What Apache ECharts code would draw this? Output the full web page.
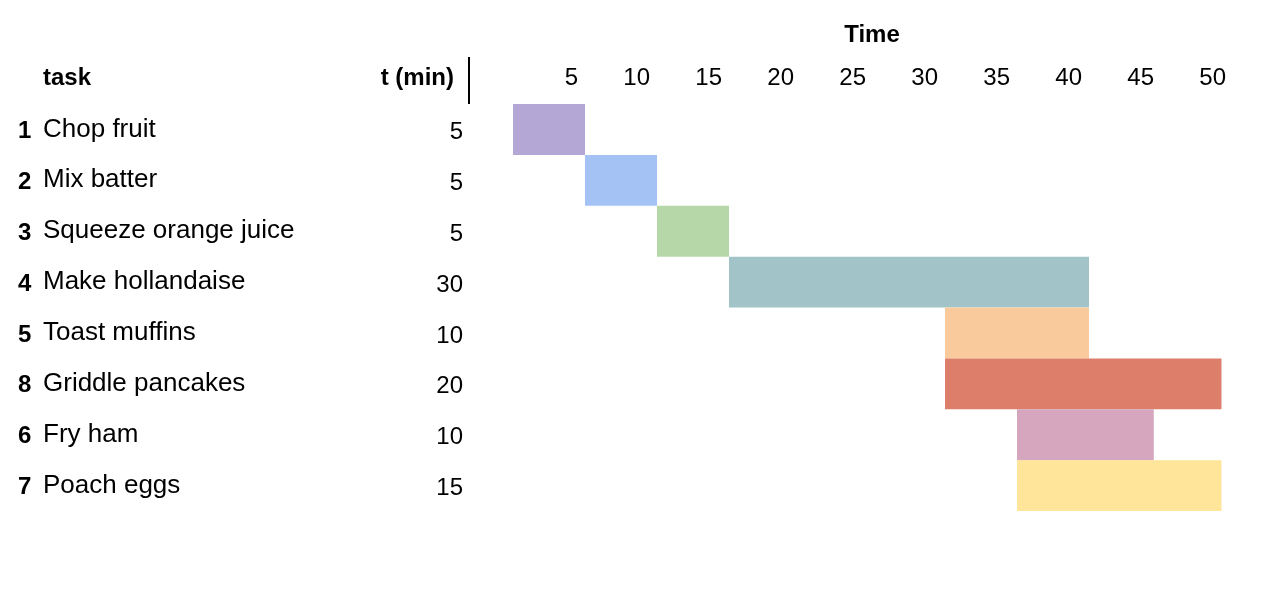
<!DOCTYPE html>
<html>
<head>
<meta charset="utf-8">
<script src="https://cdn.jsdelivr.net/npm/echarts@6/dist/echarts.min.js"></script>
<style>html,body{margin:0;padding:0;background:#fff}#main{width:1280px;height:592px}</style>
</head>
<body>
<div id="main"></div>
<script>
var ids = ['1', '2', '3', '4', '5', '8', '6', '7'];
var tasks = ['Chop fruit', 'Mix batter', 'Squeeze orange juice', 'Make hollandaise', 'Toast muffins', 'Griddle pancakes', 'Fry ham', 'Poach eggs'];
var durations = [5, 5, 5, 30, 10, 20, 10, 15];
var starts = [0, 5, 10, 15, 30, 30, 35, 35];
var ends = [5, 10, 15, 40, 40, 49.2, 44.5, 49.2];
var colors = ['#b4a7d6', '#a4c2f4', '#b6d7a8', '#a2c4c9', '#f9cb9c', '#dd7e6b', '#d5a6bd', '#ffe599'];
var timeTicks = [5, 10, 15, 20, 25, 30, 35, 40, 45, 50];

var FONT = 'Liberation Sans';
var dom = document.getElementById('main');
var myChart = echarts.init(dom, null, { renderer: 'canvas' });

var option = {
    animation: false,
    textStyle: { fontFamily: FONT },
    title: {
        text: 'Time',
        left: 867,
        top: 18,
        textAlign: 'center',
        textStyle: { fontFamily: FONT, fontSize: 24, fontWeight: 'bold', color: '#000' }
    },
    graphic: [
        { type: 'text', left: 43, top: 66, style: { text: 'task', font: 'bold 24px "Liberation Sans"', fill: '#000' } },
        { type: 'text', right: 1280 - 454, top: 66, style: { text: 't (min)', font: 'bold 24px "Liberation Sans"', fill: '#000', textAlign: 'right' } },
        { type: 'line', shape: { x1: 469, y1: 57, x2: 469, y2: 104 }, style: { stroke: '#000', lineWidth: 2 } }
    ],
    grid: { left: 513, right: 47, top: 104, bottom: 592 - 511 },
    xAxis: {
        type: 'value',
        position: 'top',
        min: 0,
        max: 50,
        interval: 5,
        axisLine: { show: false },
        axisTick: { show: false },
        splitLine: { show: false },
        axisLabel: {
            fontSize: 24,
            color: '#000',
            margin: 14,
            align: 'right',
            padding: [0, 7, 0, 0],
            formatter: function (v) { return timeTicks.indexOf(v) >= 0 ? v : ''; }
        }
    },
    yAxis: {
        type: 'category',
        inverse: true,
        data: tasks.map(function (t, i) { return i; }),
        axisLine: { show: false },
        axisTick: { show: false },
        axisLabel: {
            margin: 50,
            formatter: function (v) {
                var i = +v;
                return '{n|' + ids[i] + '}{t|' + tasks[i] + '}{d|' + durations[i] + '}';
            },
            rich: {
                n: { width: 25, align: 'left', fontSize: 24, fontWeight: 'bold', color: '#000', fontFamily: FONT, padding: [4, 0, 0, 0] },
                t: { width: 390, align: 'left', fontSize: 26, color: '#000', fontFamily: FONT },
                d: { width: 30, align: 'right', fontSize: 24, color: '#000', fontFamily: FONT, padding: [6, 0, 0, 0] }
            }
        }
    },
    series: [
        {
            type: 'bar',
            stack: 'g',
            barCategoryGap: '0%',
            itemStyle: { color: 'transparent' },
            silent: true,
            data: starts
        },
        {
            type: 'bar',
            stack: 'g',
            barCategoryGap: '0%',
            data: ends.map(function (e, i) {
                return { value: e - starts[i], itemStyle: { color: colors[i] } };
            })
        }
    ]
};

myChart.setOption(option);
window.addEventListener('resize', myChart.resize);
</script>
</body>
</html>
